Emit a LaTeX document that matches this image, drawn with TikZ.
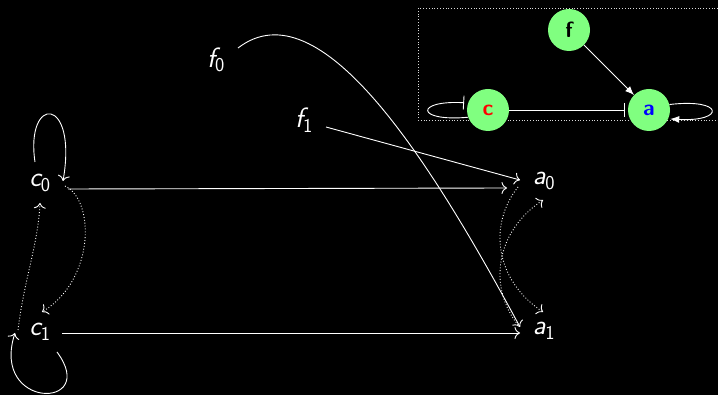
\documentclass[tikz,border=0pt]{standalone}
\usetikzlibrary{arrows.meta}
\definecolor{gnfill}{RGB}{128,255,128}
\begin{document}
\begin{tikzpicture}[x=1pt,y=-1pt,
  lbl/.style={text=white,inner sep=0pt,font=\fontsize{28}{32}\selectfont\sffamily\itshape},
  gnode/.style={circle,fill=gnfill,minimum size=42pt,inner sep=0pt,font=\fontsize{22}{22}\selectfont\sffamily\bfseries},
  arr/.style={draw=white,line width=0.9pt,-{To[length=5.5pt,width=12pt]}},
  darr/.style={arr,dotted},
  iarr/.style={draw=white,line width=0.9pt,-{Latex[length=9pt,width=7pt]}},
  ibar/.style={draw=white,line width=0.9pt,-{Bar[width=14pt]}}]
\fill[black] (0,0) rectangle (718,395);
\useasboundingbox (0,0) rectangle (718,395);

% main labels
\node[lbl] (c0) at (40,183) {c\textsubscript{\upshape 0}};
\node[lbl] (c1) at (40,332) {c\textsubscript{\upshape 1}};
\node[lbl] (a0) at (544,181) {a\textsubscript{\upshape 0}};
\node[lbl] (a1) at (544,331) {a\textsubscript{\upshape 1}};
\node[lbl] (f0) at (216,60) {f\textsubscript{\upshape 0}};
\node[lbl] (f1) at (304,120) {f\textsubscript{\upshape 1}};

% straight arrows
\draw[arr] ([shift={(28,6)}]c0.center) -- ([shift={(-37,7)}]a0.center);
\draw[arr] ([shift={(22,1)}]c1.center) -- ([shift={(-24,2)}]a1.center);
\draw[arr] ([shift={(22,7)}]f1.center) -- ([shift={(-24,-1)}]a0.center);
\draw[arr] ([shift={(22,-12)}]f0.center) .. controls (320,-15) and (430,160) .. ([shift={(-24,-4)}]a1.center);

% self loops
\draw[arr] ([shift={(-5,-21)}]c0.center) .. controls (25,95) and (78,95) .. ([shift={(23,-2)}]c0.center);
\draw[arr] ([shift={(17,20)}]c1.center) .. controls (100,410) and (-10,410) .. ([shift={(-25,1)}]c1.center);

% dotted arrows
\draw[darr] ([shift={(25,3)}]c0.center) .. controls (95,200) and (95,280) .. ([shift={(2,-20)}]c1.center);
\draw[darr] ([shift={(-22,-2)}]c1.center) .. controls (24,280) and (38,245) .. ([shift={(0,20)}]c0.center);
\draw[darr] ([shift={(-26,6)}]a0.center) .. controls (488,225) and (495,280) .. ([shift={(-1,-19)}]a1.center);
\draw[darr] ([shift={(-26,-6)}]a1.center) .. controls (488,287) and (495,232) .. ([shift={(-1,19)}]a0.center);

% inset
\draw[white!85!black,dotted,line width=0.8pt] (418,8) rectangle (722,120);
\node[gnode] (f) at (569,30) {f};
\node[gnode] (c) at (488,110) {\textcolor{red}{c}};
\node[gnode] (a) at (649,110) {\textcolor{blue}{a}};
\draw[iarr] (f) -- (a);
\draw[ibar] (c.east) -- ([xshift=-3pt]a.west);
\draw[ibar] (c.200) .. controls (415,122) and (415,100) .. ([xshift=-4pt]c.160);
\draw[iarr] (a.15) .. controls (725,98) and (725,122) .. ([xshift=2pt]a.-25);
\end{tikzpicture}
\end{document}
